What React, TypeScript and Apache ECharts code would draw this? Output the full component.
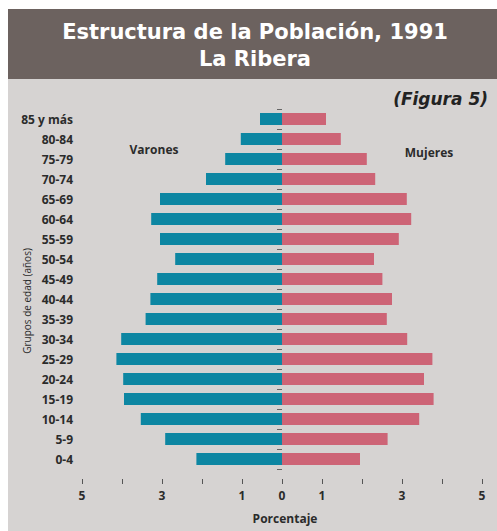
import React, { useEffect, useRef } from "react";
import * as echarts from "echarts";

const categories = ["0-4", "5-9", "10-14", "15-19", "20-24", "25-29", "30-34", "35-39", "40-44", "45-49", "50-54", "55-59", "60-64", "65-69", "70-74", "75-79", "80-84", "85 y más"];
const varones = [2.14, 2.92, 3.53, 3.95, 3.97, 4.14, 4.02, 3.41, 3.29, 3.12, 2.67, 3.05, 3.27, 3.05, 1.9, 1.42, 1.03, 0.55];
const mujeres = [1.95, 2.64, 3.43, 3.79, 3.55, 3.76, 3.13, 2.62, 2.75, 2.51, 2.3, 2.92, 3.23, 3.12, 2.33, 2.12, 1.47, 1.1];
const shownTicks = [0, 1, 3, 5];

const FONT = "'Open Sans', 'Noto Sans', sans-serif";
const TITLE_FONT = "'DejaVu Sans', sans-serif";
const DARK = "#2b2b2b";

export default function App() {
  const ref = useRef<HTMLDivElement>(null);
  useEffect(() => {
    document.body.style.margin = "0";
    const chart = echarts.init(ref.current!, null, { renderer: "svg" });
    chart.setOption({
      animation: false,
      backgroundColor: "#d6d3d2",
      textStyle: { fontFamily: FONT },
      graphic: [
        { type: "rect", shape: { x: 0, y: 0, width: 8, height: 531 }, style: { fill: "#ffffff" } },
        { type: "rect", shape: { x: 0, y: 0, width: 497, height: 9 }, style: { fill: "#ffffff" } },
        { type: "rect", shape: { x: 8, y: 9, width: 489, height: 70 }, style: { fill: "#6c625f" } },
        { type: "text", x: 255, y: 31.5, style: { text: "Estructura de la Población, 1991", fill: "#ffffff", font: `bold 21px ${TITLE_FONT}`, align: "center", verticalAlign: "middle" } },
        { type: "text", x: 255, y: 58.5, style: { text: "La Ribera", fill: "#ffffff", font: `bold 21px ${TITLE_FONT}`, align: "center", verticalAlign: "middle" } },
        { type: "text", x: 488, y: 99, style: { text: "(Figura 5)", fill: "#222222", font: `oblique bold 17px ${TITLE_FONT}`, align: "right", verticalAlign: "middle" } },
        { type: "text", x: 154, y: 149, style: { text: "Varones", fill: DARK, font: `bold 12px ${FONT}`, align: "center", verticalAlign: "middle" } },
        { type: "text", x: 429, y: 152, style: { text: "Mujeres", fill: DARK, font: `bold 12px ${FONT}`, align: "center", verticalAlign: "middle" } },
        { type: "text", x: 27, y: 301, rotation: Math.PI / 2, style: { text: "Grupos de edad (años)", fill: DARK, font: `10px ${FONT}`, align: "center", verticalAlign: "middle" } },
      ],
      grid: { left: 82, right: 15, top: 109, bottom: 62, containLabel: false, outerBoundsMode: "none" },
      xAxis: {
        type: "value",
        min: -5,
        max: 5,
        interval: 1,
        offset: 10,
        splitLine: { show: false },
        axisLine: { show: false },
        axisTick: { show: true, length: 5, lineStyle: { color: "#555555", width: 1 } },
        axisLabel: {
          margin: 10,
          color: DARK,
          fontSize: 12,
          fontWeight: "bold",
          fontFamily: FONT,
          formatter: (v: number) => (shownTicks.includes(Math.abs(v)) ? String(Math.abs(v)) : ""),
        },
        name: "Porcentaje",
        nameLocation: "middle",
        nameGap: 33,
        nameTextStyle: { color: DARK, fontSize: 12, fontWeight: "bold", fontFamily: FONT, padding: [0, 0, 0, 6] },
      },
      yAxis: {
        type: "category",
        data: categories,
        axisLine: { show: false },
        axisTick: { show: true, length: 5, lineStyle: { color: "#666666", width: 1 } },
        axisLabel: { margin: 9, color: DARK, fontSize: 12, fontWeight: "bold", fontFamily: FONT },
      },
      series: [
        {
          name: "Varones",
          type: "bar",
          stack: "p",
          barWidth: 12,
          data: varones.map((v) => -v),
          itemStyle: { color: "#0d86a2" },
        },
        {
          name: "Mujeres",
          type: "bar",
          stack: "p",
          barWidth: 12,
          data: mujeres,
          itemStyle: { color: "#cd6476" },
        },
      ],
    });
    return () => chart.dispose();
  }, []);
  return <div ref={ref} style={{ width: 497, height: 531 }} />;
}
